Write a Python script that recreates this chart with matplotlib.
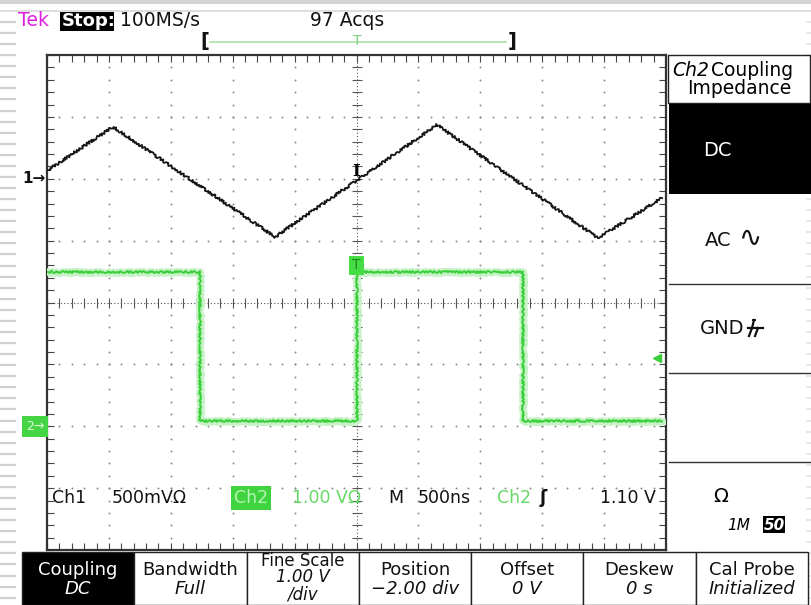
import numpy as np
import matplotlib.pyplot as plt
import matplotlib.patheffects as pe
from matplotlib.patches import Rectangle
from matplotlib.transforms import blended_transform_factory

W, H = 812, 605

# horizontal: 500 ns/div, 10 divisions
ns_per_div = 500
# channel 1: 500 mV/div, position +2 div (triangle)
ch1_scale, ch1_pos = 0.5, 2.0
ch1_t = [-2492, -1967, -658, 650, 1951, 2468]
ch1_v = [0.07, 0.42, -0.47, 0.435, -0.48, -0.155]
# channel 2: 1 V/div, position -2 div (square)
ch2_scale, ch2_pos = 1.0, -2.0
ch2_t = [-2492, -1264, -1264, 0, 0, 1345, 1345, 2468]
ch2_v = [2.5, 2.5, 0.09, 0.09, 2.5, 2.5, 0.09, 0.09]
trig_level = 1.10

readout = ["Ch1", "500mVΩ", "Ch2", "1.00 VΩ", "M", "500ns", "Ch2", "ʃ", "1.10 V"]
side_items = ["DC", "AC", "GND", ""]
bottom_heads = ["Coupling", "Bandwidth", "Fine Scale", "Position", "Offset", "Deskew", "Cal Probe"]
bottom_vals = ["DC", "Full", "1.00 V\n/div", "−2.00 div", "0 V", "0 s", "Initialized"]

GREEN = '#3ccf3c'
FONT = 'DejaVu Sans'

fig = plt.figure(figsize=(W / 100, H / 100), dpi=100)
fig.patch.set_facecolor('white')

# fondo en pixeles
bg = fig.add_axes([0, 0, 1, 1])
bg.set_xlim(0, W)
bg.set_ylim(H, 0)
bg.axis('off')

# franjas grises del borde
bg.add_patch(Rectangle((0, 0), W, 4, color='#d4d4d4', lw=0))
bg.plot([0, W], [11, 11], color='#dedede', lw=1.5)
for yy in np.arange(22, H, 11.07):
    bg.plot([0, 16], [yy, yy], color='#d0d0d0', lw=1.6, solid_capstyle='butt')
    bg.plot([806, W], [yy, yy], color='#e4e4e4', lw=1.2, solid_capstyle='butt')

# cabecera
bg.text(18, 21, "Tek", color='#e020e0', fontsize=13.5, family=FONT, va='center')
bg.add_patch(Rectangle((60, 12), 54, 19, color='black', lw=0))
bg.text(62, 21, "Stop:", color='white', fontsize=13, family=FONT, va='center', fontweight='bold')
bg.text(120, 21, "100MS/s", color='#111', fontsize=13.5, family=FONT, va='center')
bg.text(310, 21, "97 Acqs", color='#111', fontsize=13.5, family=FONT, va='center')
bg.text(200, 42, "[", color='#111', fontsize=14, family=FONT, va='center', fontweight='bold')
bg.text(508, 42, "]", color='#111', fontsize=14, family=FONT, va='center', fontweight='bold')
bg.plot([210, 506], [42, 42], color='#a8e0a8', lw=1.2)
bg.text(357, 41, "T", color='#7fd07f', fontsize=10, family=FONT, ha='center', va='center')

# pantalla
ax = fig.add_axes([47 / W, 1 - 550 / H, 619 / W, 495 / H])
ax.set_xlim(-5 * ns_per_div, 5 * ns_per_div)
ax.set_ylim(-4, 4)
ax.set_facecolor('white')
for s in ax.spines.values():
    s.set_color('#333333')
    s.set_linewidth(1.6)
minor_x = np.arange(-5 * ns_per_div, 5 * ns_per_div + 1, ns_per_div / 5)
minor_y = np.arange(-4, 4.01, 0.2)
ax.set_xticks(minor_x)
ax.set_yticks(minor_y)
ax.tick_params(direction='in', length=5, width=0.8, color='#444444',
               top=True, right=True, labelbottom=False, labelleft=False)

# reticula punteada
for xg in np.arange(-4, 5) * ns_per_div:
    if xg != 0:
        ax.plot(np.full_like(minor_y, xg), minor_y, ls='none', marker='o', ms=1.4,
                color='#8a8a8a', mew=0)
for yg in range(-3, 4):
    if yg != 0:
        ax.plot(minor_x, np.full_like(minor_x, yg), ls='none', marker='o', ms=1.4,
                color='#8a8a8a', mew=0)
# ejes centrales con marcas
ax.axhline(0, color='#555555', lw=0.8, ls=(0, (1, 2)))
ax.axvline(0, color='#555555', lw=0.8, ls=(0, (1, 2)))
ax.plot(minor_x, np.zeros_like(minor_x), ls='none', marker='|', ms=7, mew=0.8, color='#555555')
ax.plot(np.zeros_like(minor_y), minor_y, ls='none', marker='_', ms=7, mew=0.8, color='#555555')

# trazas
y1 = np.array(ch1_v) / ch1_scale + ch1_pos
y2 = np.array(ch2_v) / ch2_scale + ch2_pos
l2, = ax.plot(ch2_t, y2, color=GREEN, lw=1.4, zorder=3,
              path_effects=[pe.Stroke(linewidth=5, foreground='#c6f2c6'), pe.Normal()])
l2.set_sketch_params(1.0, 4, 3)
l1, = ax.plot(ch1_t, y1, color='#151515', lw=1.3, zorder=4)
l1.set_sketch_params(1.3, 3, 3)

# marcadores de disparo
ax.text(0, 2.12, "I", color='black', fontsize=12, family='DejaVu Serif', fontweight='bold',
        ha='center', va='center', zorder=5)
ax.text(0, ch2_v[4] / ch2_scale + ch2_pos + 0.1, "T", color='#1a8a1a', fontsize=10,
        family=FONT, ha='center', va='center', zorder=5,
        bbox=dict(boxstyle='square,pad=0.2', fc='#44dd44', ec='none'))
tr = blended_transform_factory(ax.transAxes, ax.transData)
ax.plot([0.985], [trig_level / ch2_scale + ch2_pos], marker='<', ms=6, color=GREEN,
        transform=tr, clip_on=False)
# marcadores de tierra
ax.text(-0.002, ch1_pos, "1→", transform=tr, ha='right', va='center', fontsize=11,
        family=FONT, fontweight='bold', color='#111')
ax.text(-0.004, ch2_pos, "2→", transform=tr, ha='right', va='center', fontsize=9,
        family=FONT, color='#dfffdf', clip_on=False,
        bbox=dict(boxstyle='square,pad=0.3', fc='#44d444', ec='none'))

# capa superior en pixeles
fg = fig.add_axes([0, 0, 1, 1])
fg.set_xlim(0, W)
fg.set_ylim(H, 0)
fg.axis('off')
fg.patch.set_alpha(0)

# lectura inferior
ry = 498
rx = [52, 112, 234, 292, 388, 418, 497, 540, 600]
cols = ['#111', '#111', '#b5f5b5', '#66d866', '#111', '#111', '#66d866', '#111', '#111']
for x, s, c in zip(rx, readout, cols):
    kw = {}
    if x == 234:
        kw['bbox'] = dict(boxstyle='square,pad=0.15', fc='#3fd43f', ec='none')
    fg.text(x, ry, s, color=c, fontsize=12.5, family=FONT, va='center',
            fontweight='bold' if s == 'ʃ' else 'normal', **kw)

# menu lateral
fg.add_patch(Rectangle((668, 55), 142, 48, fc='white', ec='#222', lw=1))
fg.text(672, 70, "Ch2", fontsize=13.5, family=FONT, style='italic', va='center')
fg.text(711, 70, "Coupling", fontsize=13.5, family=FONT, va='center')
fg.text(739, 88, "Impedance", fontsize=13.5, family=FONT, va='center', ha='center')
fg.add_patch(Rectangle((669, 104), 143, 90, fc='black', ec='none'))
side_y = [150, 240, 328, 417]
side_x = [703, 705, 700, 705]
for i, (s, x, y) in enumerate(zip(side_items, side_x, side_y)):
    fg.text(x, y, s, fontsize=14, family=FONT, va='center',
            color='white' if i == 0 else '#111')
fg.text(738, 238, "∿", fontsize=20, family=FONT, va='center', color='#111')
# simbolo de masa (no hay glifo instalado para ⏚)
gx, gy = 753, 332
fg.plot([gx, gx + 2], [gy - 12, gy - 12], color='#111', lw=1.4)
fg.plot([gx + 1, gx - 1], [gy - 12, gy - 4], color='#111', lw=1.6)
fg.plot([gx - 5, gx + 10], [gy - 4, gy - 4], color='#111', lw=1.6)
for dx in [0, 6]:
    fg.plot([gx - 1 + dx, gx - 4 + dx], [gy - 4, gy + 4], color='#111', lw=1.6)
for yy in [284, 373, 462]:
    fg.plot([669, 812], [yy, yy], color='#333', lw=1)
fg.text(713, 497, "Ω", fontsize=14, family=FONT, va='center')
fg.text(727, 525, "1M", fontsize=11, family=FONT, style='italic', va='center')
fg.add_patch(Rectangle((763, 516), 22, 17, fc='black', ec='none'))
fg.text(774, 525, "50", fontsize=11, family=FONT, style='italic', fontweight='bold',
        color='white', va='center', ha='center')

# menu inferior
edges = np.linspace(22, 808, 8)
for i in range(7):
    x0, x1 = edges[i], edges[i + 1]
    dark = i == 0
    fg.add_patch(Rectangle((x0, 552), x1 - x0, H - 552, fc='black' if dark else 'white',
                           ec='#222', lw=1))
    cx = (x0 + x1) / 2
    c = 'white' if dark else '#111'
    if '\n' in bottom_vals[i]:
        fg.text(cx, 561, bottom_heads[i], fontsize=12, family=FONT, color=c,
                ha='center', va='center')
        fg.text(cx, 586, bottom_vals[i], fontsize=12, family=FONT, style='italic',
                color=c, ha='center', va='center', linespacing=0.95)
    else:
        fg.text(cx, 570, bottom_heads[i], fontsize=13, family=FONT, color=c,
                ha='center', va='center')
        fg.text(cx, 589, bottom_vals[i], fontsize=13, family=FONT, style='italic',
                color=c, ha='center', va='center')

fig.savefig('out.png', dpi=100)
